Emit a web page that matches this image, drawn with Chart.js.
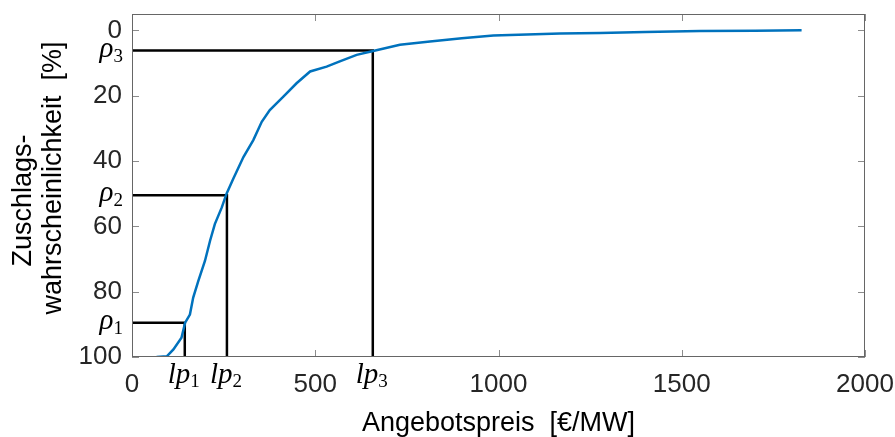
<!DOCTYPE html>
<html><head><meta charset="utf-8">
<script src="https://cdn.jsdelivr.net/npm/chart.js@4/dist/chart.umd.min.js"></script>
<style>html,body{margin:0;padding:0;background:#fff;overflow:hidden}</style>
</head><body>
<canvas id="c" width="895" height="437"></canvas>
<script>
// ---- data ----
const priceValues = [67, 95, 113, 135, 145, 158, 167, 181, 199, 213, 226, 245, 258, 276, 304, 331, 354, 376, 413, 449, 486, 531, 567, 613, 658, 731, 813, 900, 986, 1100, 1168, 1277, 1400, 1550, 1700, 1827];
const probValues  = [100, 99.8, 97.7, 94.1, 89.5, 87, 81.8, 76.7, 70.6, 64.4, 59.3, 54.2, 50, 45.5, 38.8, 33.6, 28, 24.4, 20.3, 16.2, 12.6, 11.1, 9.5, 7.5, 6.3, 4.4, 3.4, 2.4, 1.6, 1.2, 1.0, 0.8, 0.5, 0.2, 0.1, 0];
const rhoValues = [89.5, 50.5, 6.2];
const lpValues  = [144, 259, 657];
const indexLabels = ['1', '2', '3'];
const xTickValues = [0, 500, 1000, 1500, 2000];
const yTickValues = [0, 20, 40, 60, 80, 100];
const xTitle = 'Angebotspreis  [€/MW]';
const yTitle = ['Zuschlags-    ', '  wahrscheinlichkeit  [%]'];

const SANS = "'Liberation Sans', Arial, sans-serif";
const SERIF = "'Liberation Serif', 'Times New Roman', serif";

const curve = priceValues.map((x, i) => ({x, y: probValues[i]}));
const guideSets = rhoValues.map((r, i) => ({
  data: [{x: 0, y: r}, {x: lpValues[i], y: r}, {x: lpValues[i], y: 100}],
  borderColor: '#000', borderWidth: 2.5, pointRadius: 0, tension: 0, fill: false
}));

const framePlugin = {
  id: 'frame',
  afterDatasetsDraw(chart) {
    const {ctx, chartArea: a, scales: {x, y}} = chart;
    ctx.save();
    ctx.strokeStyle = '#8c8c8c';
    ctx.lineWidth = 1;
    ctx.beginPath();
    xTickValues.forEach(v => {
      const px = Math.round(x.getPixelForValue(v)) + 0.5;
      ctx.moveTo(px, a.bottom); ctx.lineTo(px, a.bottom - 7);
      ctx.moveTo(px, a.top); ctx.lineTo(px, a.top + 7);
    });
    yTickValues.forEach(v => {
      const py = Math.round(y.getPixelForValue(v)) + 0.5;
      ctx.moveTo(a.left, py); ctx.lineTo(a.left + 7, py);
      ctx.moveTo(a.right, py); ctx.lineTo(a.right - 7, py);
    });
    ctx.stroke();
    ctx.strokeStyle = '#666';
    ctx.strokeRect(a.left + 0.5, a.top + 0.5, a.right - a.left - 1, a.bottom - a.top - 1);
    ctx.restore();
  },
  afterDraw(chart) {
    const {ctx, chartArea: a, scales: {x, y}} = chart;
    ctx.save();
    ctx.fillStyle = '#000';
    ctx.textBaseline = 'alphabetic';
    const mainFont = 'italic 29px ' + SERIF;
    const subFont = '19px ' + SERIF;
    rhoValues.forEach((r, i) => {
      const py = y.getPixelForValue(r);
      ctx.font = mainFont; const w1 = ctx.measureText('ρ').width;
      ctx.font = subFont; const w2 = ctx.measureText(indexLabels[i]).width;
      const right = a.left - 9;
      const left = right - w1 - w2;
      ctx.textAlign = 'left';
      ctx.font = mainFont; ctx.fillText('ρ', left, py + 6);
      ctx.font = subFont; ctx.fillText(indexLabels[i], left + w1, py + 11);
    });
    lpValues.forEach((v, i) => {
      const px = x.getPixelForValue(v);
      ctx.font = mainFont; const w1 = ctx.measureText('lp').width;
      ctx.font = subFont; const w2 = ctx.measureText(indexLabels[i]).width;
      const left = px - (w1 + w2) / 2 - 1;
      ctx.textAlign = 'left';
      ctx.font = mainFont; ctx.fillText('lp', left, a.bottom + 26);
      ctx.font = subFont; ctx.fillText(indexLabels[i], left + w1, a.bottom + 30);
    });
    ctx.restore();
  }
};

new Chart(document.getElementById('c'), {
  type: 'line',
  data: {
    datasets: [
      {data: curve, borderColor: '#0072BD', borderWidth: 2.5, pointRadius: 0, tension: 0, fill: false},
      ...guideSets
    ]
  },
  options: {
    responsive: false,
    animation: false,
    events: [],
    layout: {padding: {left: 0, right: 30, top: 14, bottom: 0}},
    plugins: {legend: {display: false}, tooltip: {enabled: false}},
    scales: {
      x: {
        type: 'linear', min: 0, max: 2000,
        afterBuildTicks: s => { s.ticks = xTickValues.map(v => ({value: v})); },
        afterFit: s => { s.height = 80; s.paddingLeft = 0; s.paddingRight = 0; },
        grid: {display: false, drawTicks: false},
        border: {display: false},
        ticks: {color: '#262626', font: {family: SANS, size: 26}, padding: 12, maxRotation: 0, autoSkip: false,
                callback: v => String(v)},
        title: {display: true, text: xTitle, color: '#000', font: {family: SANS, size: 27, lineHeight: 1}, padding: {top: 0, bottom: 0}}
      },
      y: {
        type: 'linear', min: -5, max: 100, reverse: true,
        afterBuildTicks: s => { s.ticks = yTickValues.map(v => ({value: v})); },
        afterFit: s => { s.width = 132; s.paddingTop = 0; s.paddingBottom = 0; },
        grid: {display: false, drawTicks: false},
        border: {display: false},
        ticks: {color: '#262626', font: {family: SANS, size: 26}, padding: 10, autoSkip: false,
                callback: v => String(v)},
        title: {display: true, text: yTitle, color: '#000', font: {family: SANS, size: 27, lineHeight: 1.1}, padding: {top: 9, bottom: 0}}
      }
    }
  },
  plugins: [framePlugin]
});
</script>
</body></html>
